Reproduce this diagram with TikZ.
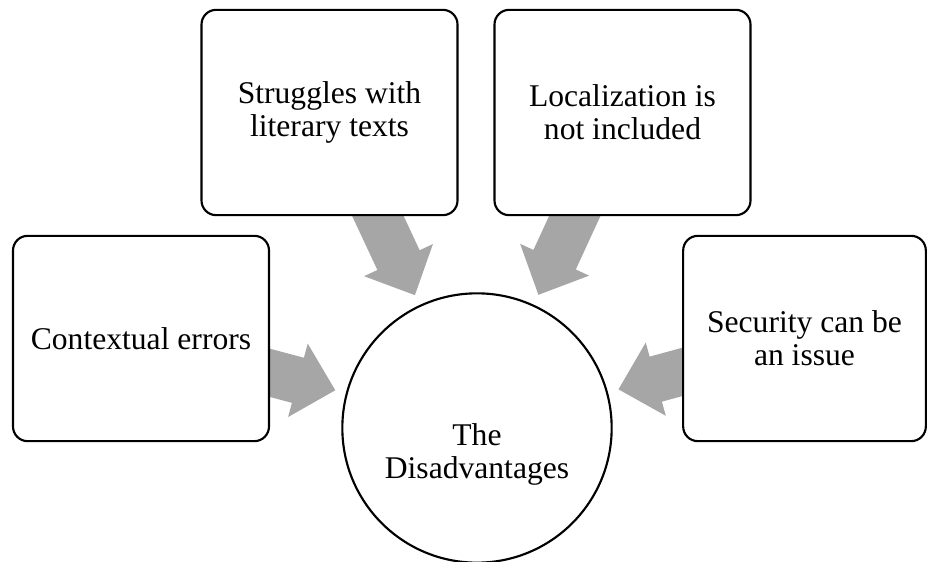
\documentclass[tikz,border=0pt]{standalone}
\usepackage{fontspec}
\setmainfont{Liberation Serif}
\usetikzlibrary{calc, backgrounds}
\definecolor{arrowgray}{RGB}{166,166,166}
\tikzset{
  topicbox/.style={rectangle, draw=black, fill=white, line width=1.6pt,
    rounded corners=11pt, minimum width=192pt, minimum height=154pt,
    align=center, font=\fontsize{23.7}{25}\selectfont},
  hubcircle/.style={circle, draw=black, fill=white, line width=1.6pt,
    minimum size=202pt},
  hubtext/.style={align=center, font=\fontsize{23.7}{25}\selectfont},
  arrowfill/.style={fill=arrowgray}
}
% gray block arrow from a topic box towards the hub
\newcommand{\blockarrow}[2]{%
  \coordinate (tip) at ($(#2.center)!110pt!(#1.center)$);
  \coordinate (base) at ($(tip)!29pt!(#1.center)$);
  \fill[arrowfill] ($(#1.center)!17.5pt!90:(tip)$) -- ($(base)!17.5pt!90:(tip)$)
    -- ($(base)!28.5pt!90:(tip)$) -- (tip) -- ($(base)!28.5pt!-90:(tip)$)
    -- ($(base)!17.5pt!-90:(tip)$) -- ($(#1.center)!17.5pt!-90:(tip)$) -- cycle;
}
\begin{document}
\begin{tikzpicture}[x=0.75pt, y=0.75pt]
    \useasboundingbox (0,0) rectangle (928,561);

    % hub and the four topics
    \node[hubcircle] (hub) at (477,133) {};
    \node[hubtext] (hubtitle) at ([yshift=-20pt]hub.center) {The\\Disadvantages};
    \node[topicbox] (context) at (141,222.5) {Contextual errors};
    \node[topicbox] (literary) at (329.5,448.5) {Struggles with\\literary texts};
    \node[topicbox] (local) at (622.5,448.5) {Localization is\\not included};
    \node[topicbox, minimum width=182pt] (security) at (804.5,222.5) {Security can be\\an issue};

    % block arrows behind the boxes
    \begin{scope}[on background layer]
      \blockarrow{context}{hub}
      \blockarrow{literary}{hub}
      \blockarrow{local}{hub}
      \blockarrow{security}{hub}
    \end{scope}
\end{tikzpicture}
\end{document}
